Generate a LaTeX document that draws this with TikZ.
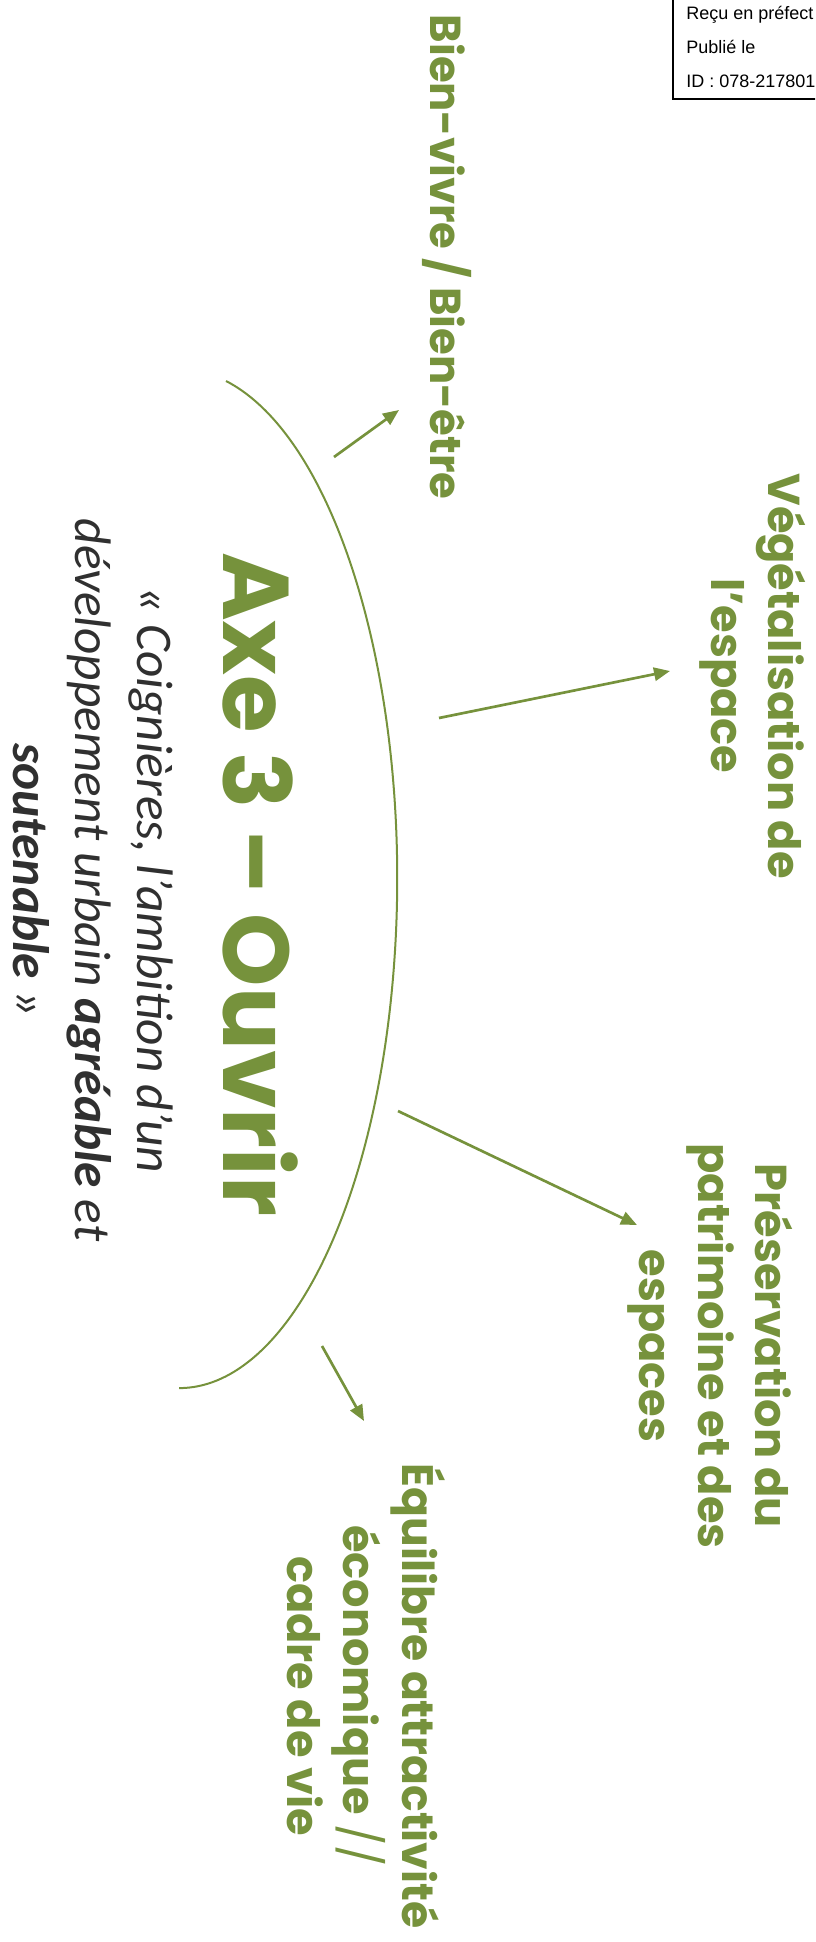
\documentclass[tikz,border=0pt]{standalone}
\usepackage{fontspec}
\usepackage{tikz}
\usetikzlibrary{arrows.meta}
\newfontfamily\gothic{Poppins}
\newfontfamily\citefont{Carlito}
\newfontfamily\stampfont{Liberation Sans}
\definecolor{axegreen}{HTML}{76923C}
\definecolor{citegray}{HTML}{303030}

\begin{document}
\begin{tikzpicture}[x=0.75pt, y=-0.75pt,
		theme/.style={rotate=-90, anchor=base, inner sep=0, text=axegreen, font=\gothic\bfseries\fontsize{33.5}{40}\selectfont},
		axetitle/.style={theme, font=\gothic\bfseries\fontsize{70}{84}\selectfont},
		citation/.style={rotate=-90, anchor=base, inner sep=0, text=citegray, font=\citefont\itshape\fontsize{38.5}{46}\selectfont},
		link/.style={draw=axegreen, line width=2pt, -{Triangle[length=12pt, width=10pt]}},
		stamp/.style={anchor=base west, inner sep=0, font=\stampfont\fontsize{13.5}{16}\selectfont}]
		\clip (0,0) rectangle (815,1942);
		\draw[line width=1.5pt] (673,-5) rectangle (830,99);
		\node[stamp] (recu) at (686,19) {Reçu en préfect};
		\node[stamp] (publie) at (686,53) {Publié le};
		\node[stamp] (ident) at (686,87) {ID : 078-217801};
		\draw[axegreen, line width=1.5pt] (226,381) arc[start angle=-77.6, end angle=90, x radius=218, y radius=509.5];
		\node[axetitle] (axe) at (223,884) {Axe 3 – Ouvrir};
		\node[citation] (cite1) at (137,880) {« Coignières, l’ambition d’un};
		\node[citation] (cite2) at (75,880) {développement urbain \textbf{agréable} et};
		\node[citation] (cite3) at (13,880) {\textbf{soutenable} »};
		\node[theme, font=\gothic\bfseries\fontsize{32.5}{39}\selectfont] (bien) at (430,257) {Bien-vivre / Bien-être};
		\node[theme] (veg1) at (768,676) {Végétalisation de};
		\node[theme] (veg2) at (711,676) {l’espace};
		\node[theme] (pres1) at (755,1346) {Préservation du};
		\node[theme] (pres2) at (698,1346) {patrimoine et des};
		\node[theme] (pres3) at (639,1346) {espaces};
		\node[theme, font=\gothic\bfseries\fontsize{33}{40}\selectfont] (equi1) at (402,1696) {Équilibre attractivité};
		\node[theme] (equi2) at (343,1696) {économique {\mdseries //}};
		\node[theme] (equi3) at (287,1696) {cadre de vie};
		\coordinate (bienfrom) at (334,457);
		\coordinate (biento) at (399,410);
		\coordinate (vegfrom) at (439,718);
		\coordinate (vegto) at (670,671);
		\coordinate (presfrom) at (398,1111);
		\coordinate (presto) at (637,1225);
		\coordinate (equifrom) at (322,1346);
		\coordinate (equito) at (364,1421);
		\draw[link] (bienfrom) -- (biento);
		\draw[link] (vegfrom) -- (vegto);
		\draw[link] (presfrom) -- (presto);
		\draw[link] (equifrom) -- (equito);
	\end{tikzpicture}
\end{document}
